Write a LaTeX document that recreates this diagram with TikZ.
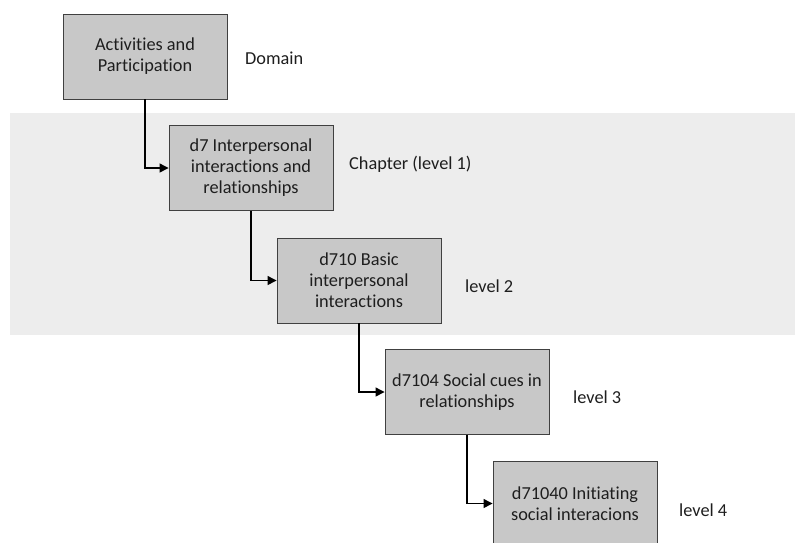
\documentclass[tikz,border=0pt]{standalone}
\usepackage{fontspec}
\setmainfont{Carlito}[Ligatures={NoCommon}]
\usetikzlibrary{arrows.meta}
\definecolor{boxgray}{RGB}{200,200,200}
\definecolor{bandgray}{RGB}{237,237,237}
\definecolor{edgegray}{RGB}{64,64,64}
\definecolor{textgray}{RGB}{30,30,30}
\begin{document}
\begin{tikzpicture}[x=1pt,y=-1pt,
  box/.style={draw=edgegray, fill=boxgray, line width=0.9pt, minimum width=164pt, minimum height=85pt, align=center, inner sep=0pt, text=textgray, font=\fontsize{18.3}{21}\selectfont},
  lbl/.style={anchor=west, inner sep=0pt, text=textgray, font=\fontsize{18.3}{21}\selectfont},
  conn/.style={line width=1.3pt, -{Triangle[length=9pt,width=9pt]}}]
\useasboundingbox (0,0) rectangle (795,542);
\fill[bandgray] (10,113) rectangle (795,335);
\node[box] (a) at (145,56.5) {Activities and\\Participation};
\node[box] (b) at (251,168) {d7 Interpersonal\\interactions and\\relationships};
\node[box] (c) at (359,280.5) {d710 Basic\\interpersonal\\interactions};
\node[box] (d) at (467,392) {d7104 Social cues in\\relationships};
\node[box] (e) at (575,503.5) {d71040 Initiating\\social interacions};
\node[lbl] (la) at (245,58) {Domain};
\node[lbl] (lb) at (349,164) {Chapter (level 1)};
\node[lbl] (lc) at (465,286) {level 2};
\node[lbl] (ld) at (573,397) {level 3};
\node[lbl] (le) at (679,510) {level 4};
\draw[conn] (a.south) |- (b.west);
\draw[conn] (b.south) |- (c.west);
\draw[conn] (c.south) |- (d.west);
\draw[conn] (d.south) |- (e.west);
\end{tikzpicture}
\end{document}
